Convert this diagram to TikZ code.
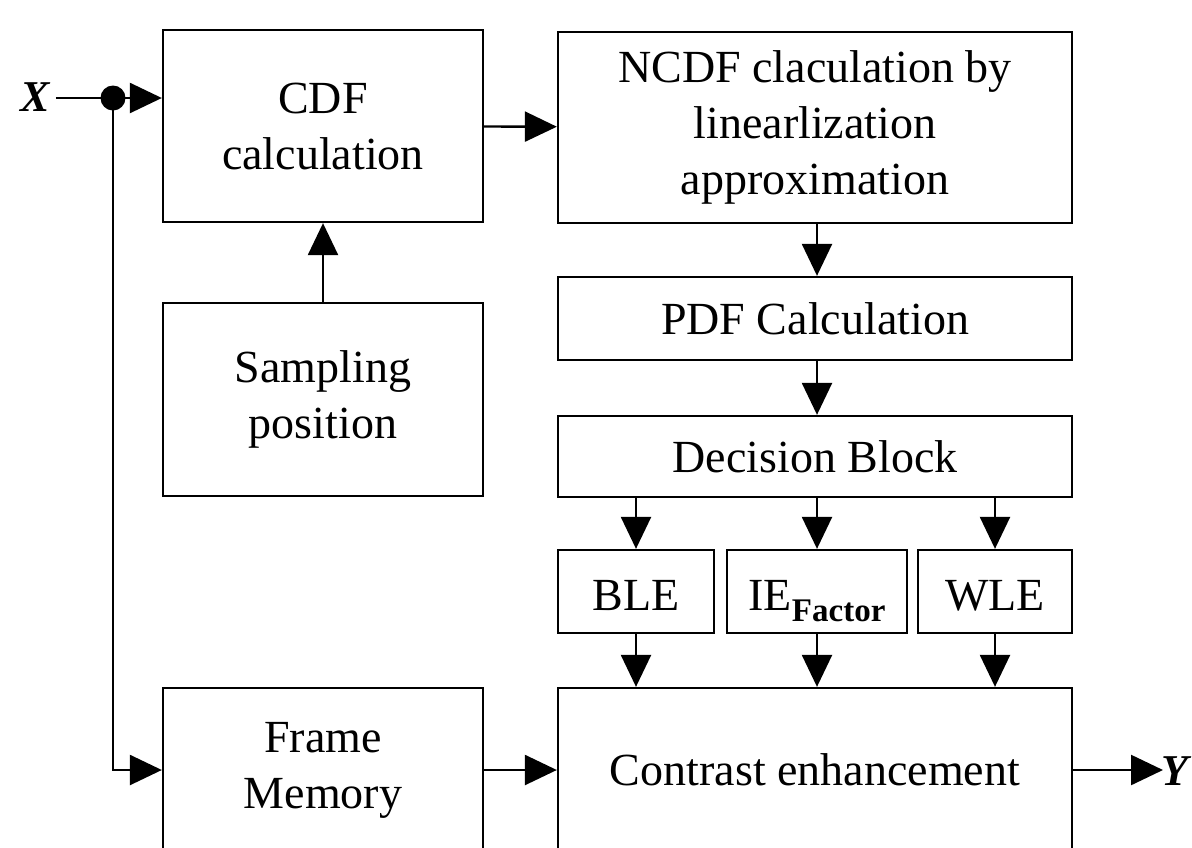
\documentclass[tikz,border=0pt]{standalone}
\usepackage{fontspec}
\setmainfont{Liberation Serif}
\usetikzlibrary{arrows.meta,calc}

\tikzset{
  blk/.style={draw, line width=2.3pt, align=center, inner sep=0pt,
    font=\fontsize{46}{56}\selectfont},
  small/.style={blk, minimum height=83pt, text height=37pt, text depth=0pt},
  flow/.style={line width=2.4pt, -{Triangle[length=32pt,width=30pt]}},
  wire/.style={line width=2.4pt},
  sig/.style={font=\fontsize{44}{44}\selectfont\bfseries\itshape, inner sep=0pt}
}

\begin{document}
\begin{tikzpicture}[x=1pt,y=-1pt]
  \clip (0,0) rectangle (1192,847);
  \useasboundingbox (0,0) rectangle (1192,847);

  % left column
  \node[blk, minimum width=320pt, minimum height=192pt] (cdf) at (323,126) {CDF\\calculation};
  \node[blk, minimum width=320pt, minimum height=193pt] (samp) at (323,399.5) {Sampling\\position};
  \node[blk, minimum width=320pt, minimum height=164pt] (frame) at (323,770) {Frame\\Memory};

  % right column
  \node[blk, minimum width=514pt, minimum height=191pt] (ncdf) at (815,127.5) {NCDF claculation by\\linearlization\\approximation};
  \node[blk, minimum width=514pt, minimum height=83pt] (pdf) at (815,318.5) {PDF Calculation};
  \node[blk, minimum width=514pt, minimum height=81pt] (dec) at (815,456.5) {Decision Block};
  \node[small, minimum width=156pt] (ble) at (636,591.5) {BLE};
  \node[small, minimum width=180pt] (ief) at (817,591.5) {IE\raisebox{-0.25em}{\fontsize{33}{33}\selectfont\bfseries Factor}};
  \node[small, minimum width=154pt] (wle) at (995,591.5) {WLE};
  \node[blk, minimum width=514pt, minimum height=164pt] (ce) at (815,770) {Contrast enhancement};

  % input and output
  \node[sig] (x) at (35,97) {X};
  \coordinate (yin) at (1163,770);
  \node[sig, anchor=west] (y) at (1161,771) {Y};
  \coordinate (split) at (113,98);

  % connectors
  \draw[wire, shorten <=6pt] (x.east |- split) -- (split);
  \draw[flow] (split) -- (split -| cdf.west);
  \draw[flow] (split) |- (frame.west);
  \fill (split) circle (12.5pt);
  \draw[flow] (cdf) -- (ncdf);
  \draw[flow] (samp) -- (cdf);
  \draw[flow] (ncdf.south -| ief) -- (pdf.north -| ief);
  \draw[flow] (pdf.south -| ief) -- (dec.north -| ief);
  \draw[flow] (dec.south -| ble) -- (ble);
  \draw[flow] (dec.south -| ief) -- (ief);
  \draw[flow] (dec.south -| wle) -- (wle);
  \draw[flow] (ble) -- (ce.north -| ble);
  \draw[flow] (ief) -- (ce.north -| ief);
  \draw[flow] (wle) -- (ce.north -| wle);
  \draw[flow] (frame) -- (ce);
  \draw[flow] (ce) -- (yin);
\end{tikzpicture}
\end{document}
